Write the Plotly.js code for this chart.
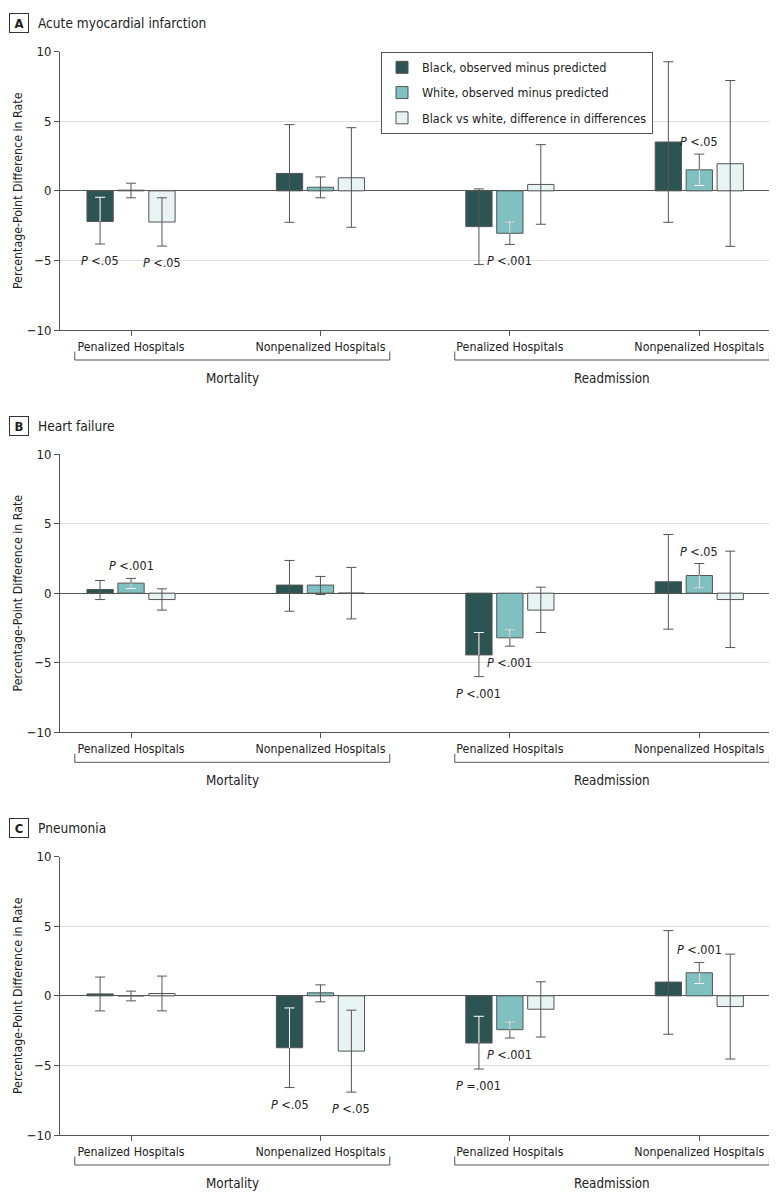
<!DOCTYPE html>
<html><head><meta charset="utf-8">
<script src="https://cdn.plot.ly/plotly-3.0.1.min.js"></script>
<style>html,body{margin:0;padding:0;background:#fff}#chart{width:780px;height:1202px}</style>
</head><body><div id="chart"></div>
<script>
// ---------- DATA ----------
const categories = ['Penalized Hospitals', 'Nonpenalized Hospitals', 'Penalized Hospitals', 'Nonpenalized Hospitals'];
const outcomeGroups = ['Mortality', 'Readmission'];
const seriesNames = ['Black, observed minus predicted', 'White, observed minus predicted', 'Black vs white, difference in differences'];
const panelLetters = ['A', 'B', 'C'];
const panelTitles = ['Acute myocardial infarction', 'Heart failure', 'Pneumonia'];

// Panel A: acute myocardial infarction
const amiBlack = [-2.2, 1.25, -2.57, 3.51];
const amiBlackLo = [-3.82, -2.26, -5.29, -2.26];
const amiBlackHi = [-0.46, 4.76, 0.14, 9.28];
const amiWhite = [0.05, 0.26, -3.05, 1.51];
const amiWhiteLo = [-0.5, -0.5, -3.85, 0.38];
const amiWhiteHi = [0.55, 1.0, -2.24, 2.64];
const amiDiff = [-2.24, 0.94, 0.46, 1.95];
const amiDiffLo = [-3.97, -2.62, -2.4, -3.99];
const amiDiffHi = [-0.5, 4.54, 3.32, 7.93];

// Panel B: heart failure
const hfBlack = [0.26, 0.58, -4.44, 0.82];
const hfBlackLo = [-0.46, -1.3, -6.0, -2.59];
const hfBlackHi = [0.91, 2.35, -2.83, 4.22];
const hfWhite = [0.72, 0.58, -3.21, 1.27];
const hfWhiteLo = [0.34, -0.1, -3.81, 0.38];
const hfWhiteHi = [1.06, 1.2, -2.64, 2.13];
const hfDiff = [-0.46, 0.0, -1.22, -0.46];
const hfDiffLo = [-1.22, -1.85, -2.83, -3.91];
const hfDiffHi = [0.31, 1.85, 0.43, 3.02];

// Panel C: pneumonia
const pnBlack = [0.14, -3.73, -3.39, 0.99];
const pnBlackLo = [-1.08, -6.59, -5.26, -2.76];
const pnBlackHi = [1.35, -0.87, -1.47, 4.69];
const pnWhite = [0.0, 0.22, -2.43, 1.66];
const pnWhiteLo = [-0.36, -0.43, -3.03, 0.89];
const pnWhiteHi = [0.34, 0.79, -1.88, 2.4];
const pnDiff = [0.17, -3.97, -0.96, -0.77];
const pnDiffLo = [-1.08, -6.92, -2.96, -4.54];
const pnDiffHi = [1.42, -1.03, 1.01, 3.0];

// P-value labels: panel index, category index, series index, text, side
const pPanel = [0, 0, 0, 0, 1, 1, 1, 1, 2, 2, 2, 2, 2];
const pCategory = [0, 0, 2, 3, 0, 2, 2, 3, 1, 1, 2, 2, 3];
const pSeries = [0, 2, 1, 1, 1, 1, 0, 1, 0, 2, 0, 1, 1];
const pText = ['<.05', '<.05', '<.001', '<.05', '<.001', '<.001', '<.001', '<.05', '<.05', '<.05', '=.001', '<.001', '<.001'];
const pSide = ['below', 'below', 'below', 'above', 'above', 'below', 'below', 'above', 'below', 'below', 'below', 'below', 'above'];

// ---------- STRUCTURE ----------
const panels = [
  {v: [amiBlack, amiWhite, amiDiff], lo: [amiBlackLo, amiWhiteLo, amiDiffLo], hi: [amiBlackHi, amiWhiteHi, amiDiffHi]},
  {v: [hfBlack, hfWhite, hfDiff], lo: [hfBlackLo, hfWhiteLo, hfDiffLo], hi: [hfBlackHi, hfWhiteHi, hfDiffHi]},
  {v: [pnBlack, pnWhite, pnDiff], lo: [pnBlackLo, pnWhiteLo, pnDiffLo], hi: [pnBlackHi, pnWhiteHi, pnDiffHi]}
];

const FONT = "'DejaVu Sans Condensed', 'Liberation Sans Narrow', 'Arial Narrow', 'Liberation Sans', sans-serif";
const W = 780, H = 1202;
const PLOT_LEFT = 60, PLOT_RIGHT = 769, PLOT_H = 278.3;
const PLOT_TOPS = [51.7, 454, 856.7];
const COLORS = ['#2b5452', '#7fc0c0', '#e8f4f4'];
const BAR_GAP = 0.51, BAR_GROUP_GAP = 0.15;
const SLOT = (1 - BAR_GAP) / 3;
const catIdx = categories.map((c, i) => i);
const GROUP_SPANS = [[-0.297, 1.366], [1.709, 3.37]];
const TXT = '#222';

const traces = [];
const annotations = [];
const shapes = [];
const layout = {
  width: W, height: H,
  margin: {l: 0, r: 0, t: 0, b: 0},
  paper_bgcolor: '#fff', plot_bgcolor: '#fff',
  barmode: 'group', bargap: BAR_GAP, bargroupgap: BAR_GROUP_GAP,
  font: {family: FONT, color: TXT, size: 13},
  showlegend: true,
  legend: {
    x: 381 / W, y: 1 - 51.7 / H, xanchor: 'left', yanchor: 'top',
    bordercolor: '#555', borderwidth: 1, bgcolor: '#fff',
    font: {family: FONT, size: 12.5, color: TXT},
    tracegroupgap: 6, traceorder: 'grouped'
  },
  annotations: annotations, shapes: shapes
};

panels.forEach((p, k) => {
  const sfx = k === 0 ? '' : String(k + 1);
  const xa = 'x' + sfx, ya = 'y' + sfx;
  const top = PLOT_TOPS[k];
  layout['xaxis' + sfx] = {
    domain: [PLOT_LEFT / W, PLOT_RIGHT / W], anchor: ya,
    range: [-0.375, 3.368], tickmode: 'array', tickvals: catIdx, ticktext: categories,
    ticks: 'outside', ticklen: 5, tickcolor: '#555', showline: true, linecolor: '#555', linewidth: 1,
    showgrid: false, zeroline: false, tickfont: {family: FONT, size: 12.3, color: TXT},
    fixedrange: true, automargin: false
  };
  layout['yaxis' + sfx] = {
    domain: [1 - (top + PLOT_H) / H, 1 - top / H], anchor: xa,
    range: [-10, 10], tickvals: [-10, -5, 0, 5, 10],
    ticks: 'outside', ticklen: 5, tickcolor: '#555', showline: true, linecolor: '#555', linewidth: 1,
    showgrid: true, gridcolor: '#dcdcdc', gridwidth: 1,
    zeroline: true, zerolinecolor: '#555', zerolinewidth: 1,
    tickfont: {family: FONT, size: 13, color: TXT},
    title: {text: 'Percentage-Point Difference in Rate', font: {family: FONT, size: 12.3, color: TXT}, standoff: 1},
    fixedrange: true, automargin: false
  };

  // bars with CI error bars
  for (let s = 0; s < 3; s++) {
    const v = p.v[s], lo = p.lo[s], hi = p.hi[s];
    traces.push({
      type: 'bar', x: catIdx, y: v, xaxis: xa, yaxis: ya,
      name: seriesNames[s], legendgroup: 's' + s, showlegend: k === 0,
      marker: {color: COLORS[s], line: {color: '#555', width: 1}},
      error_y: {type: 'data', symmetric: false,
        array: v.map((d, i) => hi[i] - d), arrayminus: v.map((d, i) => d - lo[i]),
        color: '#555', thickness: 1, width: 5},
      hoverinfo: 'skip'
    });
  }

  // white segments of CI where the CI end lies inside a dark/teal bar
  for (let s = 0; s < 2; s++) {
    const v = p.v[s], lo = p.lo[s], hi = p.hi[s];
    const lx = [], ly = [], mx = [], my = [];
    v.forEach((d, i) => {
      let inner = null;
      if (d < 0 && hi[i] < 0 && hi[i] > d) inner = hi[i];
      if (d > 0 && lo[i] > 0 && lo[i] < d) inner = lo[i];
      if (inner === null) return;
      const xc = i + (s - 1) * SLOT;
      lx.push(xc, xc, null); ly.push(d, inner, null);
      mx.push(xc); my.push(inner);
    });
    if (lx.length) {
      traces.push({type: 'scatter', mode: 'lines', x: lx, y: ly, xaxis: xa, yaxis: ya,
        line: {color: '#fff', width: 1}, showlegend: false, hoverinfo: 'skip'});
      traces.push({type: 'scatter', mode: 'markers', x: mx, y: my, xaxis: xa, yaxis: ya,
        marker: {symbol: 'line-ew', size: 7.3, color: '#fff', line: {color: '#fff', width: 1}},
        showlegend: false, hoverinfo: 'skip'});
    }
  }

  // panel letter box + title
  const ty = 1 - (top - 28.5) / H;
  annotations.push({xref: 'paper', yref: 'paper', x: 18.5 / W, y: ty, xanchor: 'center', yanchor: 'middle',
    text: '<b>' + panelLetters[k] + '</b>', showarrow: false, width: 14, height: 14,
    bordercolor: '#333', borderwidth: 1, borderpad: 2, font: {family: FONT, size: 13, color: TXT}});
  annotations.push({xref: 'paper', yref: 'paper', x: 36 / W, y: ty, xanchor: 'left', yanchor: 'middle',
    text: panelTitles[k], showarrow: false, font: {family: FONT, size: 13.6, color: TXT}});

  // group brackets + labels
  GROUP_SPANS.forEach((span, g) => {
    const yb = -30 / PLOT_H, yt = -21.5 / PLOT_H;
    shapes.push({type: 'path', xref: xa, yref: ya + ' domain',
      path: `M${span[0]},${yt} L${span[0]},${yb} L${span[1]},${yb} L${span[1]},${yt}`,
      line: {color: '#555', width: 1}});
    annotations.push({xref: xa, yref: ya + ' domain', x: (span[0] + span[1]) / 2, y: -48 / PLOT_H,
      xanchor: 'center', yanchor: 'middle', text: outcomeGroups[g], showarrow: false,
      font: {family: FONT, size: 13.3, color: TXT}});
  });
});

// P-value annotations
pPanel.forEach((k, j) => {
  const sfx = k === 0 ? '' : String(k + 1);
  const c = pCategory[j], s = pSeries[j];
  const below = pSide[j] === 'below';
  const yv = below ? panels[k].lo[s][c] : panels[k].hi[s][c];
  annotations.push({xref: 'x' + sfx, yref: 'y' + sfx, x: c + (s - 1) * SLOT, y: yv,
    xanchor: 'center', yanchor: below ? 'top' : 'bottom', yshift: below ? -7 : 3,
    text: '<i>P</i> ' + pText[j].replace('<', '&lt;'), showarrow: false,
    font: {family: FONT, size: 12.5, color: TXT}});
});

Plotly.newPlot('chart', traces, layout, {staticPlot: true, displayModeBar: false});
</script></body></html>
